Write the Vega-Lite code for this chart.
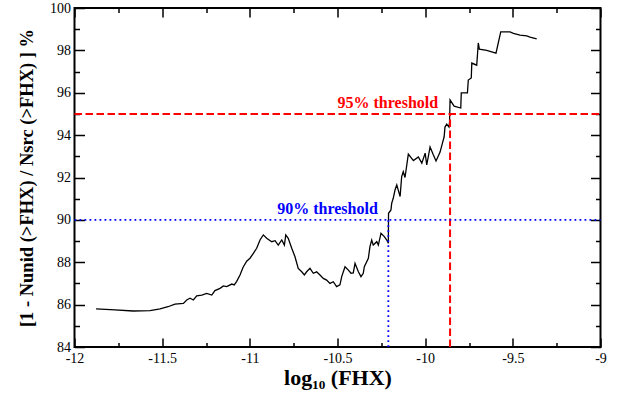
{
  "$schema": "https://vega.github.io/schema/vega-lite/v6.json",
  "width": 526,
  "height": 339,
  "autosize": {"type": "none"},
  "padding": {"left": 74.5, "top": 8, "right": 19.5, "bottom": 47},
  "config": {
    "view": {"stroke": "black", "strokeWidth": 2},
    "font": "Liberation Serif",
    "axis": {"grid": false, "domain": false, "labelFont": "Liberation Serif", "titleFont": "Liberation Serif", "tickColor": "black", "tickWidth": 1.5, "labelColor": "black", "titleColor": "black"}
  },
  "datasets": {
    "curve": [
      {"logF": -11.877, "pct": 85.8},
      {"logF": -11.769, "pct": 85.75},
      {"logF": -11.666, "pct": 85.7},
      {"logF": -11.569, "pct": 85.72},
      {"logF": -11.512, "pct": 85.8},
      {"logF": -11.467, "pct": 85.9},
      {"logF": -11.427, "pct": 86.02},
      {"logF": -11.379, "pct": 86.06},
      {"logF": -11.36, "pct": 86.22},
      {"logF": -11.341, "pct": 86.3},
      {"logF": -11.322, "pct": 86.22},
      {"logF": -11.303, "pct": 86.41},
      {"logF": -11.274, "pct": 86.45},
      {"logF": -11.246, "pct": 86.53},
      {"logF": -11.217, "pct": 86.45},
      {"logF": -11.199, "pct": 86.66},
      {"logF": -11.17, "pct": 86.77},
      {"logF": -11.151, "pct": 86.88},
      {"logF": -11.132, "pct": 86.85},
      {"logF": -11.103, "pct": 86.97},
      {"logF": -11.089, "pct": 86.93},
      {"logF": -11.075, "pct": 87.1},
      {"logF": -11.056, "pct": 87.4},
      {"logF": -11.039, "pct": 87.75},
      {"logF": -11.018, "pct": 88.05},
      {"logF": -10.999, "pct": 88.19},
      {"logF": -10.98, "pct": 88.42},
      {"logF": -10.961, "pct": 88.66},
      {"logF": -10.942, "pct": 89.05},
      {"logF": -10.923, "pct": 89.29},
      {"logF": -10.904, "pct": 89.13},
      {"logF": -10.875, "pct": 88.97},
      {"logF": -10.856, "pct": 89.02},
      {"logF": -10.838, "pct": 88.81},
      {"logF": -10.818, "pct": 89.05},
      {"logF": -10.803, "pct": 88.81},
      {"logF": -10.795, "pct": 89.29},
      {"logF": -10.781, "pct": 89.13},
      {"logF": -10.761, "pct": 88.66},
      {"logF": -10.742, "pct": 88.25},
      {"logF": -10.724, "pct": 87.71},
      {"logF": -10.704, "pct": 87.55},
      {"logF": -10.689, "pct": 87.4},
      {"logF": -10.676, "pct": 87.55},
      {"logF": -10.657, "pct": 87.71},
      {"logF": -10.638, "pct": 87.48},
      {"logF": -10.619, "pct": 87.55},
      {"logF": -10.6, "pct": 87.4},
      {"logF": -10.581, "pct": 87.24},
      {"logF": -10.562, "pct": 87.16},
      {"logF": -10.543, "pct": 87.0},
      {"logF": -10.524, "pct": 87.08},
      {"logF": -10.505, "pct": 86.85},
      {"logF": -10.486, "pct": 86.93},
      {"logF": -10.476, "pct": 87.32},
      {"logF": -10.457, "pct": 87.79},
      {"logF": -10.438, "pct": 87.63},
      {"logF": -10.423, "pct": 87.48},
      {"logF": -10.41, "pct": 87.5},
      {"logF": -10.4, "pct": 87.95},
      {"logF": -10.381, "pct": 87.55},
      {"logF": -10.366, "pct": 87.32},
      {"logF": -10.353, "pct": 87.48},
      {"logF": -10.347, "pct": 87.79},
      {"logF": -10.324, "pct": 88.19},
      {"logF": -10.315, "pct": 88.74},
      {"logF": -10.305, "pct": 89.05},
      {"logF": -10.296, "pct": 88.81},
      {"logF": -10.276, "pct": 88.97},
      {"logF": -10.267, "pct": 88.81},
      {"logF": -10.252, "pct": 89.37},
      {"logF": -10.233, "pct": 89.21},
      {"logF": -10.219, "pct": 89.05},
      {"logF": -10.21, "pct": 88.9},
      {"logF": -10.209, "pct": 90.31},
      {"logF": -10.195, "pct": 90.47},
      {"logF": -10.191, "pct": 90.78},
      {"logF": -10.182, "pct": 91.02},
      {"logF": -10.172, "pct": 91.41},
      {"logF": -10.162, "pct": 91.65},
      {"logF": -10.143, "pct": 91.1},
      {"logF": -10.134, "pct": 92.04},
      {"logF": -10.125, "pct": 92.27},
      {"logF": -10.115, "pct": 92.0},
      {"logF": -10.096, "pct": 93.1},
      {"logF": -10.067, "pct": 92.8},
      {"logF": -10.039, "pct": 92.97},
      {"logF": -10.019, "pct": 92.68},
      {"logF": -10.0, "pct": 93.15},
      {"logF": -9.991, "pct": 92.59},
      {"logF": -9.972, "pct": 93.44},
      {"logF": -9.953, "pct": 93.06},
      {"logF": -9.938, "pct": 92.78},
      {"logF": -9.915, "pct": 93.2},
      {"logF": -9.9, "pct": 93.67},
      {"logF": -9.892, "pct": 93.91},
      {"logF": -9.887, "pct": 94.38},
      {"logF": -9.877, "pct": 94.52},
      {"logF": -9.864, "pct": 94.38},
      {"logF": -9.861, "pct": 94.6},
      {"logF": -9.858, "pct": 95.66},
      {"logF": -9.835, "pct": 95.37},
      {"logF": -9.797, "pct": 95.28},
      {"logF": -9.794, "pct": 95.99},
      {"logF": -9.759, "pct": 95.99},
      {"logF": -9.754, "pct": 96.6},
      {"logF": -9.737, "pct": 96.7},
      {"logF": -9.734, "pct": 97.4},
      {"logF": -9.706, "pct": 97.3},
      {"logF": -9.697, "pct": 98.35},
      {"logF": -9.691, "pct": 98.06},
      {"logF": -9.649, "pct": 98.0},
      {"logF": -9.596, "pct": 97.87},
      {"logF": -9.569, "pct": 98.87},
      {"logF": -9.516, "pct": 98.87},
      {"logF": -9.497, "pct": 98.8},
      {"logF": -9.459, "pct": 98.72},
      {"logF": -9.421, "pct": 98.68},
      {"logF": -9.402, "pct": 98.63},
      {"logF": -9.364, "pct": 98.54}
    ],
    "red": [
      {"x1": -12, "x2": -9, "y1": 95, "y2": 95},
      {"x1": -9.858, "x2": -9.858, "y1": 84, "y2": 95}
    ],
    "blue": [
      {"x1": -12, "x2": -9, "y1": 90, "y2": 90},
      {"x1": -10.21, "x2": -10.21, "y1": 84, "y2": 90}
    ],
    "labels": [
      {"label": "95% threshold", "lx": -9.926, "ly": 95.28, "grp": "red"},
      {"label": "90% threshold", "lx": -10.27, "ly": 90.28, "grp": "blue"}
    ]
  },
  "resolve": {"axis": {"x": "independent", "y": "independent"}},
  "layer": [
    {
      "data": {"name": "curve"},
      "mark": {"type": "line", "color": "black", "strokeWidth": 1.3, "clip": true},
      "encoding": {
        "x": {
          "field": "logF", "type": "quantitative",
          "scale": {"domain": [-12, -9], "nice": false, "zero": false},
          "axis": {
            "orient": "bottom",
            "values": [-12, -11.75, -11.5, -11.25, -11, -10.75, -10.5, -10.25, -10, -9.75, -9.5, -9.25, -9],
            "labelExpr": "datum.value % 0.5 === 0 ? datum.value : ''",
            "tickSize": {"condition": {"test": "datum.value % 0.5 === 0", "value": -9}, "value": -4.5},
            "labelPadding": 13.5,
            "labelFont": "Liberation Serif",
            "labelFontSize": 14,
            "labelFlush": false,
            "title": "log₁₀ (FHX)",
            "titleFont": "Liberation Serif",
            "titleFontSize": 22,
            "titleFontWeight": "bold",
            "titlePadding": 2
          }
        },
        "y": {
          "field": "pct", "type": "quantitative",
          "scale": {"domain": [84, 100], "nice": false, "zero": false},
          "axis": {
            "orient": "left",
            "values": [84, 85, 86, 87, 88, 89, 90, 91, 92, 93, 94, 95, 96, 97, 98, 99, 100],
            "labelExpr": "datum.value % 2 === 0 ? datum.value : ''",
            "tickSize": {"condition": {"test": "datum.value % 2 === 0", "value": -10}, "value": -5},
            "labelPadding": 14,
            "labelFont": "Liberation Serif",
            "labelFontSize": 14,
            "labelFlush": false,
            "title": "[1 - Nunid (>FHX) / Nsrc (>FHX) ] %",
            "titleFont": "Liberation Serif",
            "titleFontSize": 18.5,
            "titleFontWeight": "bold",
            "titlePadding": 13
          }
        }
      }
    },
    {
      "data": {"name": "red"},
      "mark": {"type": "rule", "color": "#ff0000", "strokeWidth": 2, "strokeDash": [7.5, 3.5]},
      "encoding": {
        "x": {
          "field": "x1", "type": "quantitative",
          "scale": {"domain": [-12, -9], "nice": false, "zero": false},
          "axis": {
            "orient": "top",
            "values": [-12, -11.75, -11.5, -11.25, -11, -10.75, -10.5, -10.25, -10, -9.75, -9.5, -9.25, -9],
            "labels": false,
            "tickSize": {"condition": {"test": "datum.value % 0.5 === 0", "value": -9}, "value": -4.5},
            "title": null
          }
        },
        "x2": {"field": "x2"},
        "y": {
          "field": "y1", "type": "quantitative",
          "scale": {"domain": [84, 100], "nice": false, "zero": false},
          "axis": {
            "orient": "right",
            "values": [84, 85, 86, 87, 88, 89, 90, 91, 92, 93, 94, 95, 96, 97, 98, 99, 100],
            "labels": false,
            "tickSize": {"condition": {"test": "datum.value % 2 === 0", "value": -10}, "value": -5},
            "title": null
          }
        },
        "y2": {"field": "y2"}
      }
    },
    {
      "data": {"name": "blue"},
      "mark": {"type": "rule", "color": "#0000ff", "strokeWidth": 1.8, "strokeDash": [1.8, 3.2]},
      "encoding": {
        "x": {"field": "x1", "type": "quantitative", "scale": {"domain": [-12, -9], "nice": false, "zero": false}, "axis": null},
        "x2": {"field": "x2"},
        "y": {"field": "y1", "type": "quantitative", "scale": {"domain": [84, 100], "nice": false, "zero": false}, "axis": null},
        "y2": {"field": "y2"}
      }
    },
    {
      "data": {"name": "labels"},
      "mark": {"type": "text", "align": "right", "baseline": "alphabetic", "fontSize": 16, "fontWeight": "bold", "font": "Liberation Serif"},
      "encoding": {
        "x": {"field": "lx", "type": "quantitative", "scale": {"domain": [-12, -9], "nice": false, "zero": false}, "axis": null},
        "y": {"field": "ly", "type": "quantitative", "scale": {"domain": [84, 100], "nice": false, "zero": false}, "axis": null},
        "text": {"field": "label"},
        "color": {"field": "grp", "type": "nominal", "scale": {"domain": ["red", "blue"], "range": ["#ff0000", "#0000ff"]}, "legend": null}
      }
    }
  ]
}
